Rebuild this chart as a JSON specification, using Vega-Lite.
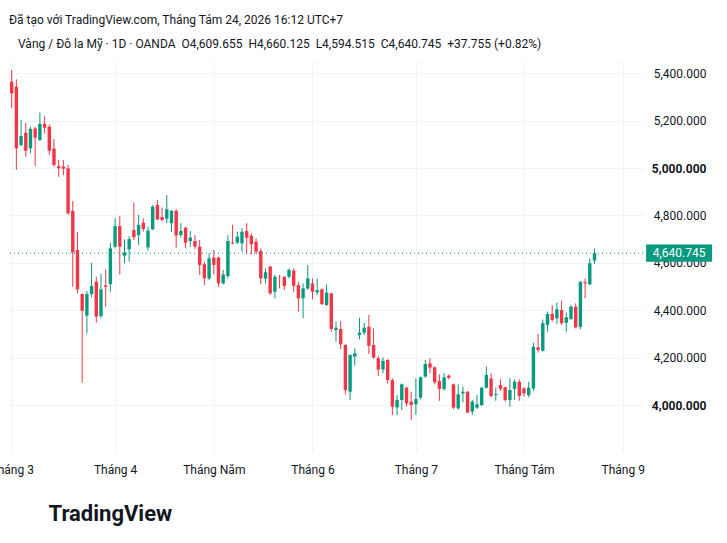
{
  "$schema": "https://vega.github.io/schema/vega-lite/v6.json",
  "width": 634,
  "height": 393,
  "autosize": {"type": "none"},
  "padding": {"left": 9, "top": 60, "right": 84, "bottom": 90},
  "background": "#ffffff",
  "title": {
    "text": "Đã tạo với TradingView.com, Tháng Tám 24, 2026 16:12 UTC+7",
    "subtitle": "\u2800Vàng / Đô la Mỹ · 1D · OANDA\u00a0\u00a0O4,609.655\u00a0\u00a0H4,660.125\u00a0\u00a0L4,594.515\u00a0\u00a0C4,640.745\u00a0\u00a0+37.755 (+0.82%)",
    "anchor": "start",
    "frame": "group",
    "fontSize": 12,
    "fontWeight": "normal",
    "color": "#131722",
    "subtitleFontSize": 12,
    "subtitleColor": "#131722",
    "subtitlePadding": 12,
    "offset": 9
  },
  "data": {
    "values": [
      {"d": "2026-03-02", "o": 5364, "h": 5414, "l": 5252, "c": 5315},
      {"d": "2026-03-03", "o": 5343, "h": 5374, "l": 4992, "c": 5083},
      {"d": "2026-03-04", "o": 5097, "h": 5203, "l": 5090, "c": 5135},
      {"d": "2026-03-05", "o": 5149, "h": 5189, "l": 5048, "c": 5073},
      {"d": "2026-03-06", "o": 5083, "h": 5174, "l": 5062, "c": 5165},
      {"d": "2026-03-09", "o": 5167, "h": 5174, "l": 5008, "c": 5128},
      {"d": "2026-03-10", "o": 5118, "h": 5234, "l": 5114, "c": 5186},
      {"d": "2026-03-11", "o": 5186, "h": 5219, "l": 5146, "c": 5170},
      {"d": "2026-03-12", "o": 5174, "h": 5184, "l": 5055, "c": 5073},
      {"d": "2026-03-13", "o": 5082, "h": 5122, "l": 5006, "c": 5013},
      {"d": "2026-03-16", "o": 5008, "h": 5034, "l": 4963, "c": 4999},
      {"d": "2026-03-17", "o": 5006, "h": 5034, "l": 4970, "c": 4997},
      {"d": "2026-03-18", "o": 4999, "h": 5013, "l": 4802, "c": 4809},
      {"d": "2026-03-19", "o": 4819, "h": 4861, "l": 4499, "c": 4643},
      {"d": "2026-03-20", "o": 4654, "h": 4729, "l": 4471, "c": 4488},
      {"d": "2026-03-23", "o": 4468, "h": 4471, "l": 4094, "c": 4398},
      {"d": "2026-03-24", "o": 4377, "h": 4481, "l": 4302, "c": 4468},
      {"d": "2026-03-25", "o": 4468, "h": 4600, "l": 4454, "c": 4502},
      {"d": "2026-03-26", "o": 4520, "h": 4541, "l": 4347, "c": 4373},
      {"d": "2026-03-27", "o": 4375, "h": 4553, "l": 4366, "c": 4488},
      {"d": "2026-03-30", "o": 4505, "h": 4572, "l": 4415, "c": 4499},
      {"d": "2026-03-31", "o": 4510, "h": 4685, "l": 4478, "c": 4661},
      {"d": "2026-04-01", "o": 4668, "h": 4788, "l": 4661, "c": 4755},
      {"d": "2026-04-02", "o": 4755, "h": 4797, "l": 4551, "c": 4668},
      {"d": "2026-04-06", "o": 4630, "h": 4699, "l": 4598, "c": 4644},
      {"d": "2026-04-07", "o": 4657, "h": 4713, "l": 4605, "c": 4700},
      {"d": "2026-04-08", "o": 4738, "h": 4854, "l": 4696, "c": 4708},
      {"d": "2026-04-09", "o": 4717, "h": 4802, "l": 4675, "c": 4760},
      {"d": "2026-04-10", "o": 4769, "h": 4788, "l": 4731, "c": 4743},
      {"d": "2026-04-13", "o": 4665, "h": 4752, "l": 4651, "c": 4736},
      {"d": "2026-04-14", "o": 4741, "h": 4844, "l": 4738, "c": 4837},
      {"d": "2026-04-15", "o": 4844, "h": 4865, "l": 4781, "c": 4783},
      {"d": "2026-04-16", "o": 4793, "h": 4834, "l": 4774, "c": 4781},
      {"d": "2026-04-17", "o": 4786, "h": 4886, "l": 4767, "c": 4826},
      {"d": "2026-04-20", "o": 4767, "h": 4823, "l": 4731, "c": 4819},
      {"d": "2026-04-21", "o": 4819, "h": 4827, "l": 4665, "c": 4715},
      {"d": "2026-04-22", "o": 4717, "h": 4767, "l": 4706, "c": 4734},
      {"d": "2026-04-23", "o": 4748, "h": 4753, "l": 4661, "c": 4685},
      {"d": "2026-04-24", "o": 4692, "h": 4734, "l": 4668, "c": 4706},
      {"d": "2026-04-27", "o": 4692, "h": 4717, "l": 4658, "c": 4668},
      {"d": "2026-04-28", "o": 4668, "h": 4696, "l": 4549, "c": 4591},
      {"d": "2026-04-29", "o": 4594, "h": 4605, "l": 4506, "c": 4535},
      {"d": "2026-04-30", "o": 4534, "h": 4640, "l": 4527, "c": 4619},
      {"d": "2026-05-01", "o": 4622, "h": 4654, "l": 4551, "c": 4591},
      {"d": "2026-05-04", "o": 4622, "h": 4626, "l": 4499, "c": 4513},
      {"d": "2026-05-05", "o": 4513, "h": 4570, "l": 4509, "c": 4551},
      {"d": "2026-05-06", "o": 4544, "h": 4717, "l": 4534, "c": 4692},
      {"d": "2026-05-07", "o": 4685, "h": 4760, "l": 4678, "c": 4681},
      {"d": "2026-05-08", "o": 4685, "h": 4731, "l": 4678, "c": 4710},
      {"d": "2026-05-11", "o": 4682, "h": 4746, "l": 4647, "c": 4731},
      {"d": "2026-05-12", "o": 4734, "h": 4767, "l": 4636, "c": 4706},
      {"d": "2026-05-13", "o": 4714, "h": 4724, "l": 4636, "c": 4678},
      {"d": "2026-05-14", "o": 4689, "h": 4703, "l": 4636, "c": 4647},
      {"d": "2026-05-15", "o": 4650, "h": 4661, "l": 4509, "c": 4534},
      {"d": "2026-05-18", "o": 4534, "h": 4577, "l": 4513, "c": 4560},
      {"d": "2026-05-19", "o": 4584, "h": 4588, "l": 4464, "c": 4471},
      {"d": "2026-05-20", "o": 4478, "h": 4549, "l": 4450, "c": 4541},
      {"d": "2026-05-21", "o": 4541, "h": 4549, "l": 4492, "c": 4539},
      {"d": "2026-05-22", "o": 4541, "h": 4543, "l": 4485, "c": 4502},
      {"d": "2026-05-25", "o": 4541, "h": 4577, "l": 4534, "c": 4570},
      {"d": "2026-05-26", "o": 4567, "h": 4577, "l": 4478, "c": 4503},
      {"d": "2026-05-27", "o": 4506, "h": 4520, "l": 4394, "c": 4450},
      {"d": "2026-05-28", "o": 4450, "h": 4513, "l": 4366, "c": 4492},
      {"d": "2026-05-29", "o": 4492, "h": 4591, "l": 4485, "c": 4534},
      {"d": "2026-06-01", "o": 4513, "h": 4534, "l": 4446, "c": 4478},
      {"d": "2026-06-02", "o": 4475, "h": 4534, "l": 4464, "c": 4485},
      {"d": "2026-06-03", "o": 4488, "h": 4492, "l": 4422, "c": 4426},
      {"d": "2026-06-04", "o": 4422, "h": 4509, "l": 4418, "c": 4474},
      {"d": "2026-06-05", "o": 4471, "h": 4474, "l": 4309, "c": 4321},
      {"d": "2026-06-08", "o": 4316, "h": 4352, "l": 4267, "c": 4326},
      {"d": "2026-06-09", "o": 4321, "h": 4354, "l": 4235, "c": 4256},
      {"d": "2026-06-10", "o": 4253, "h": 4256, "l": 4045, "c": 4063},
      {"d": "2026-06-11", "o": 4056, "h": 4214, "l": 4021, "c": 4211},
      {"d": "2026-06-12", "o": 4204, "h": 4239, "l": 4166, "c": 4218},
      {"d": "2026-06-15", "o": 4295, "h": 4368, "l": 4277, "c": 4305},
      {"d": "2026-06-16", "o": 4305, "h": 4347, "l": 4295, "c": 4326},
      {"d": "2026-06-17", "o": 4330, "h": 4380, "l": 4215, "c": 4250},
      {"d": "2026-06-18", "o": 4253, "h": 4323, "l": 4196, "c": 4200},
      {"d": "2026-06-19", "o": 4197, "h": 4208, "l": 4122, "c": 4150},
      {"d": "2026-06-22", "o": 4150, "h": 4200, "l": 4134, "c": 4186},
      {"d": "2026-06-23", "o": 4190, "h": 4194, "l": 4091, "c": 4105},
      {"d": "2026-06-24", "o": 4105, "h": 4112, "l": 3958, "c": 3993},
      {"d": "2026-06-25", "o": 3990, "h": 4042, "l": 3958, "c": 4021},
      {"d": "2026-06-26", "o": 4021, "h": 4091, "l": 3979, "c": 4087},
      {"d": "2026-06-29", "o": 4073, "h": 4077, "l": 3993, "c": 4007},
      {"d": "2026-06-30", "o": 4014, "h": 4056, "l": 3937, "c": 4000},
      {"d": "2026-07-01", "o": 4003, "h": 4113, "l": 3958, "c": 4025},
      {"d": "2026-07-02", "o": 4031, "h": 4120, "l": 4024, "c": 4117},
      {"d": "2026-07-03", "o": 4120, "h": 4190, "l": 4115, "c": 4173},
      {"d": "2026-07-06", "o": 4176, "h": 4197, "l": 4134, "c": 4158},
      {"d": "2026-07-07", "o": 4159, "h": 4162, "l": 4087, "c": 4096},
      {"d": "2026-07-08", "o": 4101, "h": 4129, "l": 4018, "c": 4068},
      {"d": "2026-07-09", "o": 4068, "h": 4134, "l": 4060, "c": 4117},
      {"d": "2026-07-10", "o": 4124, "h": 4129, "l": 4108, "c": 4115},
      {"d": "2026-07-13", "o": 4087, "h": 4090, "l": 3982, "c": 3989},
      {"d": "2026-07-14", "o": 3986, "h": 4087, "l": 3979, "c": 4045},
      {"d": "2026-07-15", "o": 4049, "h": 4077, "l": 4011, "c": 4056},
      {"d": "2026-07-16", "o": 4056, "h": 4059, "l": 3965, "c": 3968},
      {"d": "2026-07-17", "o": 3972, "h": 4021, "l": 3958, "c": 4014},
      {"d": "2026-07-20", "o": 3989, "h": 4042, "l": 3983, "c": 4003},
      {"d": "2026-07-21", "o": 4000, "h": 4077, "l": 3996, "c": 4073},
      {"d": "2026-07-22", "o": 4073, "h": 4162, "l": 4070, "c": 4127},
      {"d": "2026-07-23", "o": 4112, "h": 4134, "l": 4032, "c": 4038},
      {"d": "2026-07-24", "o": 4042, "h": 4074, "l": 4018, "c": 4046},
      {"d": "2026-07-27", "o": 4084, "h": 4108, "l": 4060, "c": 4068},
      {"d": "2026-07-28", "o": 4075, "h": 4077, "l": 4014, "c": 4021},
      {"d": "2026-07-29", "o": 4021, "h": 4113, "l": 3993, "c": 4063},
      {"d": "2026-07-30", "o": 4068, "h": 4108, "l": 4021, "c": 4098},
      {"d": "2026-07-31", "o": 4098, "h": 4108, "l": 4018, "c": 4038},
      {"d": "2026-08-03", "o": 4070, "h": 4075, "l": 4035, "c": 4049},
      {"d": "2026-08-04", "o": 4042, "h": 4098, "l": 4032, "c": 4073},
      {"d": "2026-08-05", "o": 4070, "h": 4263, "l": 4060, "c": 4246},
      {"d": "2026-08-06", "o": 4243, "h": 4300, "l": 4221, "c": 4232},
      {"d": "2026-08-07", "o": 4229, "h": 4361, "l": 4225, "c": 4345},
      {"d": "2026-08-10", "o": 4338, "h": 4394, "l": 4309, "c": 4384},
      {"d": "2026-08-11", "o": 4384, "h": 4422, "l": 4352, "c": 4359},
      {"d": "2026-08-12", "o": 4366, "h": 4432, "l": 4342, "c": 4404},
      {"d": "2026-08-13", "o": 4401, "h": 4440, "l": 4338, "c": 4345},
      {"d": "2026-08-14", "o": 4347, "h": 4390, "l": 4309, "c": 4370},
      {"d": "2026-08-17", "o": 4363, "h": 4422, "l": 4359, "c": 4415},
      {"d": "2026-08-18", "o": 4415, "h": 4429, "l": 4323, "c": 4328},
      {"d": "2026-08-19", "o": 4330, "h": 4522, "l": 4319, "c": 4520},
      {"d": "2026-08-20", "o": 4518, "h": 4534, "l": 4450, "c": 4513},
      {"d": "2026-08-21", "o": 4509, "h": 4619, "l": 4506, "c": 4598},
      {"d": "2026-08-24", "o": 4609.655, "h": 4660.125, "l": 4594.515, "c": 4640.745}
    ]
  },
  "transform": [
    {"window": [{"op": "row_number", "as": "i"}], "sort": [{"field": "d"}]}
  ],
  "layer": [
    {
      "encoding": {
        "x": {
          "field": "i",
          "type": "quantitative",
          "scale": {"domain": [0.43, 135.32], "nice": false, "zero": false, "padding": 0},
          "axis": {
            "values": [1, 23, 44, 65, 87, 110, 131],
            "labelExpr": "datum.value == 1 ? 'Tháng 3' : datum.value == 23 ? 'Tháng 4' : datum.value == 44 ? 'Tháng Năm' : datum.value == 65 ? 'Tháng 6' : datum.value == 87 ? 'Tháng 7' : datum.value == 110 ? 'Tháng Tám' : 'Tháng 9'",
            "labelFontSize": 12,
            "labelColor": "#131722",
            "labelPadding": 11,
            "labelFlush": false,
            "labelOverlap": false,
            "labelBound": false,
            "ticks": false,
            "tickSize": 0,
            "domain": false,
            "grid": true,
            "gridColor": "#f0f3fa",
            "title": "TradingView",
            "titleFontSize": 22,
            "titleFontWeight": "bold",
            "titleColor": "#131722",
            "titleAnchor": "start",
            "titleAlign": "left",
            "titleBaseline": "middle",
            "titleX": 39,
            "titleY": 60
          }
        },
        "color": {
          "condition": {"test": "datum.c >= datum.o", "value": "#089981"},
          "value": "#f23645"
        }
      },
      "layer": [
        {
          "mark": {"type": "rule", "strokeWidth": 1},
          "encoding": {
            "y": {
              "field": "l",
              "type": "quantitative",
              "scale": {"domain": [3797.5, 5455.7], "nice": false, "zero": false, "padding": 0},
              "axis": {
                "orient": "right",
                "values": [4000, 4200, 4400, 4600, 4800, 5000, 5200, 5400],
                "format": ",.3f",
                "title": null,
                "labelFontSize": 12,
                "labelColor": "#131722",
                "labelAlign": "right",
                "labelPadding": 63,
                "labelFontWeight": {
                  "condition": {"test": "datum.value == 4000 || datum.value == 5000", "value": "bold"},
                  "value": "normal"
                },
                "ticks": false,
                "tickSize": 0,
                "domain": false,
                "grid": true,
                "gridColor": "#f0f3fa"
              }
            },
            "y2": {"field": "h"}
          }
        },
        {
          "mark": {"type": "bar", "width": 3.4},
          "encoding": {
            "y": {"field": "o", "type": "quantitative"},
            "y2": {"field": "c"}
          }
        }
      ]
    },
    {
      "transform": [{"filter": "datum.d == '2026-08-24'"}],
      "mark": {"type": "rule", "color": "#089981", "strokeWidth": 1, "strokeDash": [1, 3]},
      "encoding": {
        "y": {"field": "c", "type": "quantitative"}
      }
    },
    {
      "transform": [{"filter": "datum.d == '2026-08-24'"}],
      "mark": {"type": "point", "shape": "M-1,-0.26H1V0.26H-1Z", "filled": true, "size": 4356, "color": "#089981", "opacity": 1, "strokeWidth": 0},
      "encoding": {
        "x": {"datum": 143, "type": "quantitative"},
        "y": {"field": "c", "type": "quantitative"}
      }
    },
    {
      "transform": [{"filter": "datum.d == '2026-08-24'"}],
      "mark": {"type": "text", "color": "#ffffff", "fontSize": 12, "align": "center", "baseline": "middle"},
      "encoding": {
        "x": {"datum": 143, "type": "quantitative"},
        "y": {"field": "c", "type": "quantitative"},
        "text": {"field": "c", "type": "quantitative", "format": ",.3f"}
      }
    }
  ],
  "config": {
    "font": "Roboto",
    "view": {"stroke": null}
  }
}
